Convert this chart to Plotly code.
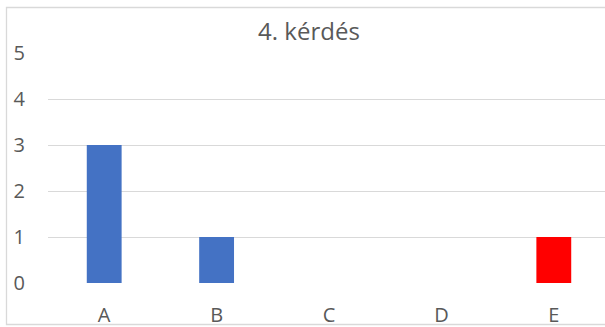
import plotly.graph_objects as go

categories = ["A", "B", "C", "D", "E"]
values = [3, 1, 0, 0, 1]
bar_colors = ["#4472C4", "#4472C4", "#4472C4", "#4472C4", "#FF0000"]
y_ticks = [0, 1, 2, 3, 4, 5]

W, H = 605, 327
ml, mt, mb = 48, 53, 44
plot_w = W - ml
plot_h = H - mt - mb
band = 112.4  # pixels per category

fig = go.Figure(
    go.Bar(
        x=list(range(len(categories))),
        y=values,
        marker=dict(color=bar_colors, line=dict(width=0)),
        width=0.31,
    )
)

def px_x(p):
    return (p - ml) / plot_w

def px_y(p):
    return (H - mb - p) / plot_h

fig.update_layout(
    width=W,
    height=H,
    margin=dict(l=ml, r=0, t=mt, b=mb, pad=0),
    paper_bgcolor="white",
    plot_bgcolor="white",
    showlegend=False,
    font=dict(family="Open Sans", color="#595959"),
    title=dict(
        text="4. kérdés",
        x=px_x(309) * plot_w / W + ml / W,
        xanchor="center",
        y=1 - 32 / H,
        yanchor="middle",
        font=dict(size=24, color="#595959", family="Open Sans"),
    ),
    xaxis=dict(
        range=[-0.5, -0.5 + plot_w / band],
        tickmode="array",
        tickvals=list(range(len(categories))),
        ticktext=categories,
        showgrid=False,
        zeroline=False,
        showline=False,
        ticks="",
        ticklabelstandoff=18,
        tickfont=dict(size=20, color="#595959"),
    ),
    yaxis=dict(
        range=[0, 5],
        tickvals=y_ticks,
        showgrid=True,
        gridcolor="#D9D9D9",
        gridwidth=1.3,
        zeroline=False,
        showline=False,
        ticks="",
        ticklabelstandoff=22,
        tickfont=dict(size=20, color="#595959"),
    ),
    shapes=[
        dict(
            type="rect",
            xref="paper",
            yref="paper",
            x0=px_x(6.5),
            x1=px_x(W + 20),
            y0=px_y(324.5),
            y1=px_y(7.5),
            line=dict(color="#D9D9D9", width=1.3),
            fillcolor="rgba(0,0,0,0)",
            layer="below",
        )
    ],
)

fig.write_html("out.html")
